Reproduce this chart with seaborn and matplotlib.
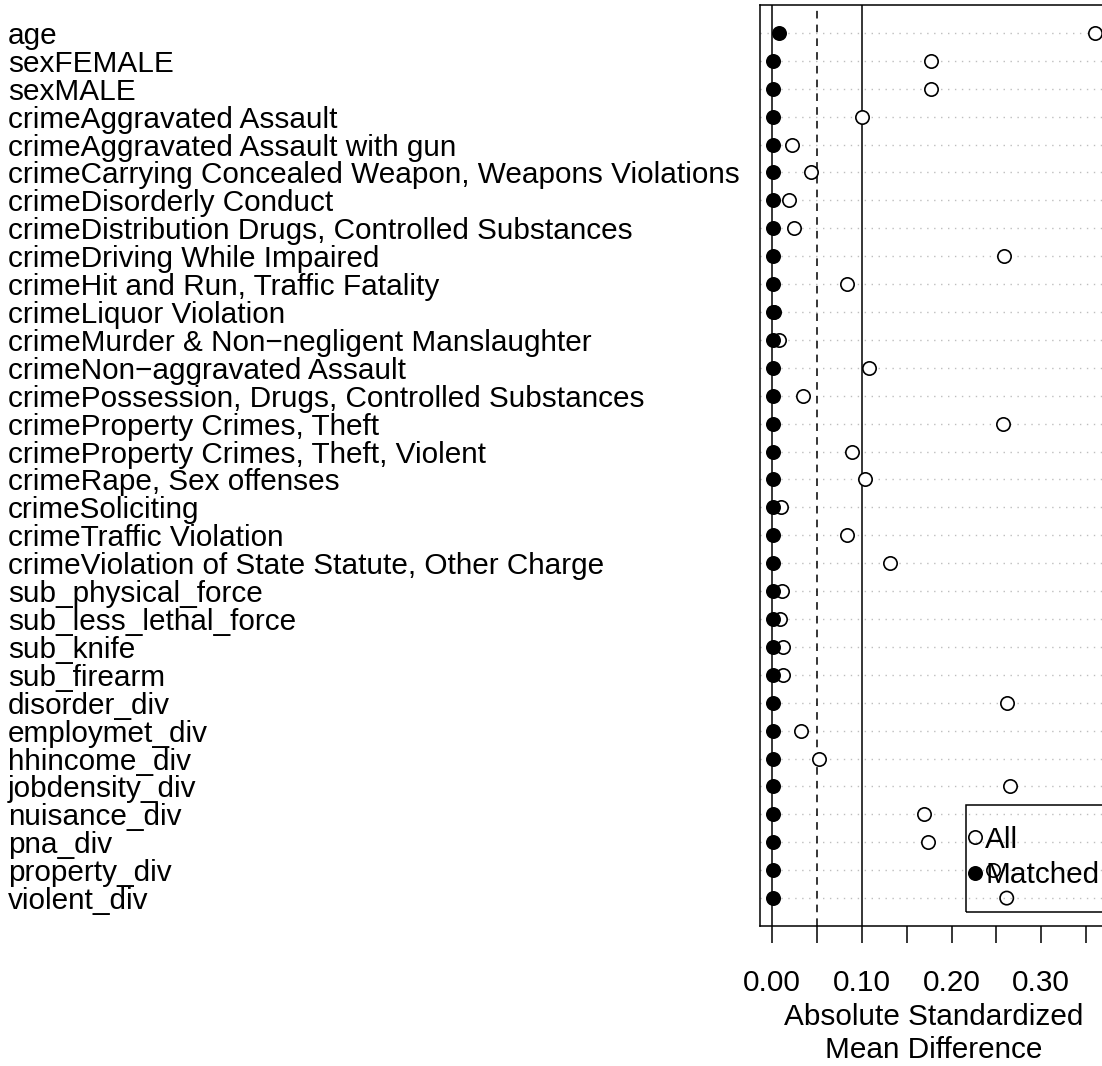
import numpy as np
import pandas as pd
import matplotlib
matplotlib.use("Agg")
import matplotlib.pyplot as plt
import seaborn as sns
from matplotlib.lines import Line2D
from matplotlib.patches import Rectangle

variables = [
    "age", "sexFEMALE", "sexMALE",
    "crimeAggravated Assault",
    "crimeAggravated Assault with gun",
    "crimeCarrying Concealed Weapon, Weapons Violations",
    "crimeDisorderly Conduct",
    "crimeDistribution Drugs, Controlled Substances",
    "crimeDriving While Impaired",
    "crimeHit and Run, Traffic Fatality",
    "crimeLiquor Violation",
    "crimeMurder & Non\u2212negligent Manslaughter",
    "crimeNon\u2212aggravated Assault",
    "crimePossession, Drugs, Controlled Substances",
    "crimeProperty Crimes, Theft",
    "crimeProperty Crimes, Theft, Violent",
    "crimeRape, Sex offenses",
    "crimeSoliciting",
    "crimeTraffic Violation",
    "crimeViolation of State Statute, Other Charge",
    "sub_physical_force", "sub_less_lethal_force", "sub_knife", "sub_firearm",
    "disorder_div", "employmet_div", "hhincome_div", "jobdensity_div",
    "nuisance_div", "pna_div", "property_div", "violent_div",
]

smd_all = [
    0.360, 0.177, 0.177, 0.100, 0.0223, 0.0432, 0.0190, 0.0246,
    0.259, 0.083, 0.002, 0.0075, 0.108, 0.0346, 0.258, 0.089,
    0.1035, 0.0097, 0.0837, 0.131, 0.0112, 0.0086, 0.0123, 0.0123,
    0.2616, 0.032, 0.0521, 0.2657, 0.1693, 0.1734, 0.246, 0.2616,
]

smd_matched = [
    0.0075, 0.0005, 0.0005, 0.0005, 0.0010, 0.0010, 0.0012, 0.0010,
    0.0005, 0.0005, 0.0005, 0.0010, 0.0005, 0.0008, 0.0005, 0.0005,
    0.0005, 0.0008, 0.0005, 0.0005, 0.0008, 0.0008, 0.0008, 0.0008,
    0.0005, 0.0005, 0.0005, 0.0005, 0.0005, 0.0005, 0.0005, 0.0005,
]

x_ticks = [0.00, 0.05, 0.10, 0.15, 0.20, 0.25, 0.30, 0.35]
x_ticklabels = ["0.00", "", "0.10", "", "0.20", "", "0.30", ""]
legend_labels = ["All", "Matched"]
x_title = "Absolute Standardized\nMean Difference"

sns.set_theme(style="white")
plt.rcParams["font.family"] = ["Liberation Sans", "DejaVu Sans"]
for k in ["text.color", "axes.labelcolor", "xtick.color", "ytick.color", "axes.edgecolor"]:
    plt.rcParams[k] = "black"

FS = 21.4
LW = 1.1

W, H = 1102, 1066
AX_L, AX_R, AX_T, AX_B = 760, 1107, 5, 926
fig = plt.figure(figsize=(W / 100, H / 100), dpi=100)
ax = fig.add_axes([AX_L / W, 1 - AX_B / H, (AX_R - AX_L) / W, (AX_B - AX_T) / H])

def ax_x(px):
    return (px - AX_L) / (AX_R - AX_L)

def ax_y(py):
    return (AX_B - py) / (AX_B - AX_T)

df_all = pd.DataFrame({"variable": variables, "smd": smd_all})
df_m = pd.DataFrame({"variable": variables, "smd": smd_matched})

sns.stripplot(data=df_all, x="smd", y="variable", order=variables, jitter=False,
              size=9.6, color="white", edgecolor="black", linewidth=1.2, ax=ax, zorder=3)
ax.collections[-1].set_facecolor("none")
sns.stripplot(data=df_m, x="smd", y="variable", order=variables, jitter=False,
              size=10.8, color="black", linewidth=0, ax=ax, zorder=4)

ax.set_ylim(len(variables), -1)
ax.set_xlim(-0.01373, 0.3735)

ax.axvline(0.0, color="black", lw=LW, zorder=2)
ax.axvline(0.05, color="black", lw=LW, ls=(0, (5, 4)), zorder=2)
ax.axvline(0.10, color="black", lw=LW, zorder=2)

ax.grid(False)
ax.yaxis.grid(True, color="#bebebe", linestyle=(0, (1, 4)), linewidth=1.0)
ax.set_axisbelow(True)

ax.set_xticks(x_ticks)
ax.set_xticklabels(x_ticklabels)
ax.tick_params(axis="x", bottom=True, direction="out", length=12.2, width=LW,
               labelsize=FS, pad=19, colors="black")
ax.tick_params(axis="y", left=False, length=0, labelsize=FS, pad=541.4)
for t in ax.get_yticklabels():
    t.set_horizontalalignment("left")

for s in ax.spines.values():
    s.set_visible(True)
    s.set_color("black")
    s.set_linewidth(LW)

ax.set_ylabel("")
ax.set_xlabel(x_title, fontsize=FS, labelpad=4, linespacing=1.25)

handles = [
    Line2D([], [], marker="o", ls="none", mfc="none", mec="black", mew=1.2, ms=9.6),
    Line2D([], [], marker="o", ls="none", mfc="black", mec="black", mew=0, ms=10.8),
]
leg = ax.legend(handles, legend_labels, loc="center left",
                bbox_to_anchor=(ax_x(975), ax_y(857.5)),
                fontsize=FS, frameon=False, handlelength=0.0,
                handletextpad=0.34, borderpad=0.0, labelspacing=0.25,
                borderaxespad=0)
# legend box (R style: square, transparent)
ax.add_patch(Rectangle((ax_x(966), ax_y(912)), 1.0 - ax_x(966), ax_y(805) - ax_y(912),
                       transform=ax.transAxes, fill=False, edgecolor="black",
                       lw=LW, zorder=5, clip_on=False))

fig.savefig("out.png", dpi=100)
